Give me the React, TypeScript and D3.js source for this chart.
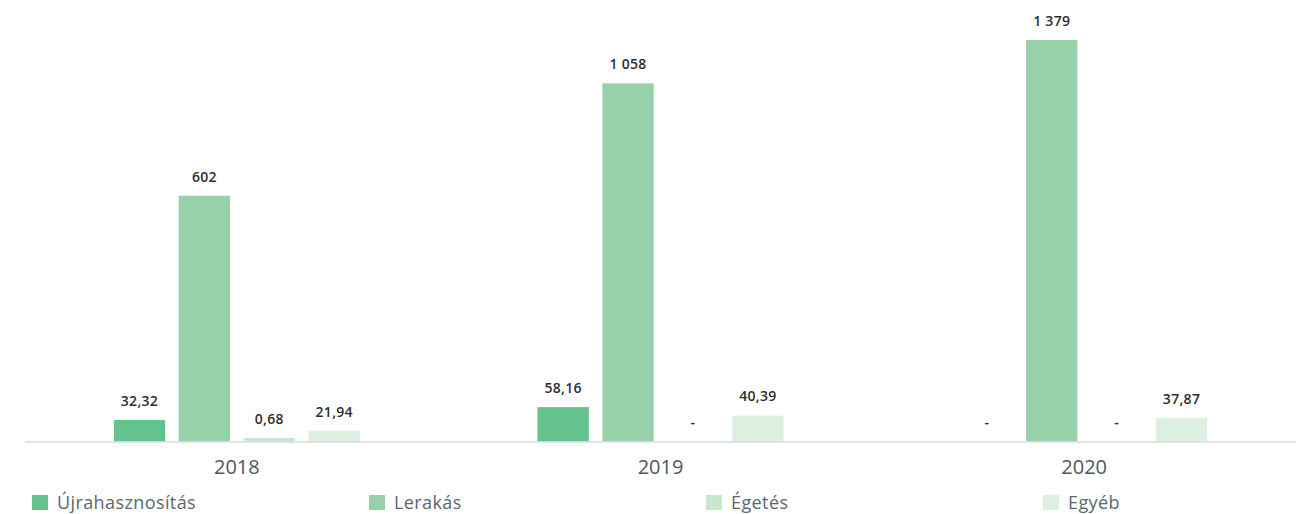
import React from "react";
import * as d3 from "d3";

const years = ["2018", "2019", "2020"];
const seriesNames = ["Újrahasznosítás", "Lerakás", "Égetés", "Egyéb"];
const seriesColors = ["#64c28c", "#96d1aa", "#c5e8cf", "#ddefe1"];

// plotted bar heights (chart units, as drawn in the picture)
const ujrahasznositas = [74, 118, 0];
const lerakas = [844, 1230, 1379];
const egetes = [12, 0, 0];
const egyeb = [36, 89, 81];

// value labels as printed above the bars
const ujrahasznositasLabels = ["32,32", "58,16", "-"];
const lerakasLabels = ["602", "1 058", "1 379"];
const egetesLabels = ["0,68", "-", "-"];
const egyebLabels = ["21,94", "40,39", "37,87"];

const seriesValues = [ujrahasznositas, lerakas, egetes, egyeb];
const seriesLabels = [ujrahasznositasLabels, lerakasLabels, egetesLabels, egyebLabels];

const W = 1303;
const H = 514;
const M = { left: 25, right: 7, top: 40, baseline: 441.5 };

export default function App() {
  const x0 = d3.scaleBand<string>().domain(years).range([M.left, W - M.right]).padding(0);
  const groupW = 246;
  const x1 = d3
    .scaleBand<string>()
    .domain(seriesNames)
    .range([-groupW / 2, groupW / 2])
    .paddingInner(0.21)
    .paddingOuter(0);
  const y = d3.scaleLinear().domain([0, 1379]).range([M.baseline, M.top]);

  const legendX = d3.scalePoint<string>().domain(seriesNames).range([32, 1043]);

  return (
    <svg
      width={W}
      height={H}
      style={{ position: "absolute", left: 0, top: 0, fontFamily: "'Open Sans', Lato, sans-serif" }}
    >
      <rect width={W} height={H} fill="#ffffff" />
      {years.map((yr, i) => {
        const cx = (x0(yr) as number) + x0.bandwidth() / 2;
        return (
          <g key={yr}>
            {seriesNames.map((s, j) => {
              const v = seriesValues[j][i];
              const bx = cx + (x1(s) as number);
              const top = y(v);
              return (
                <g key={s}>
                  {v > 0 && (
                    <rect
                      x={bx}
                      y={top}
                      width={x1.bandwidth()}
                      height={M.baseline - top}
                      fill={seriesColors[j]}
                    />
                  )}
                  <text
                    x={bx + x1.bandwidth() / 2}
                    y={top - 19}
                    dy="0.35em"
                    textAnchor="middle"
                    fontSize={14}
                    fontWeight={600}
                    letterSpacing={0.3}
                    fill="#2e2e2e"
                  >
                    {seriesLabels[j][i]}
                  </text>
                </g>
              );
            })}
            <text
              x={cx}
              y={467}
              dy="0.35em"
              textAnchor="middle"
              fontSize={20}
              fontWeight={400}
              fill="#4d5861"
            >
              {yr}
            </text>
          </g>
        );
      })}
      <line
        x1={M.left}
        x2={W - M.right}
        y1={M.baseline + 0.5}
        y2={M.baseline + 0.5}
        stroke="#d5dde2"
        strokeWidth={1.5}
      />
      {seriesNames.map((s, j) => {
        const lx = legendX(s) as number;
        return (
          <g key={s}>
            <rect x={lx} y={495} width={16} height={15} fill={seriesColors[j]} />
            <text
              x={lx + 25}
              y={502.5}
              dy="0.35em"
              fontSize={18}
              fontWeight={400}
              letterSpacing={0.4}
              fill="#5b6770"
            >
              {s}
            </text>
          </g>
        );
      })}
    </svg>
  );
}
